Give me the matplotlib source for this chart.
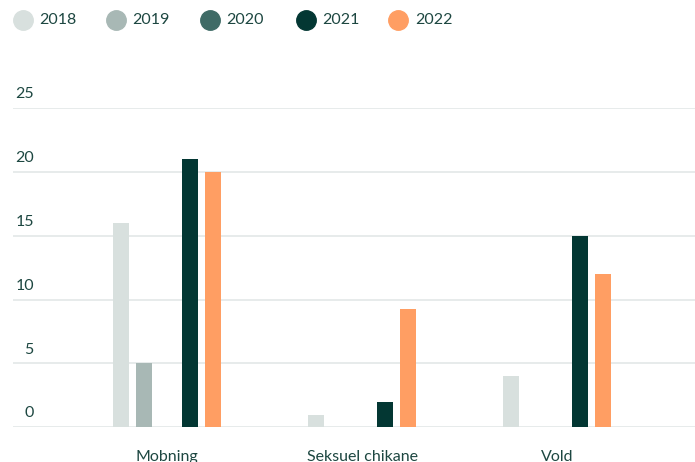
import matplotlib
matplotlib.use("Agg")
import numpy as np
import matplotlib.pyplot as plt
from matplotlib.lines import Line2D

# data
categories = ["Mobning", "Seksuel chikane", "Vold"]
years = ["2018", "2019", "2020", "2021", "2022"]
v2018 = [16, 1, 4]
v2019 = [5, 0, 0]
v2020 = [0, 0, 0]
v2021 = [21, 2, 15]
v2022 = [20, 9.3, 12]
series = [v2018, v2019, v2020, v2021, v2022]
colors = ["#d8e0de", "#a8b8b5", "#3f6b66", "#033733", "#ff9e63"]
yticks = [0, 5, 10, 15, 20, 25]

txt_col = "#1d4741"
plt.rcParams["font.family"] = ["Lato", "DejaVu Sans"]

W, H = 695, 462
fig = plt.figure(figsize=(W / 100, H / 100), dpi=100)
ax_left, ax_right = 13, 695
ax_top, ax_bot = 108, 427.3
ax = fig.add_axes([ax_left / W, 1 - ax_bot / H, (ax_right - ax_left) / W, (ax_bot - ax_top) / H])

unit = 195.0  # px per category
x = np.arange(len(categories))
off = 23 / unit
bw = 16 / unit
for i, (vals, c) in enumerate(zip(series, colors)):
    ax.bar(x + (i - 2) * off, vals, width=bw, color=c, zorder=3, linewidth=0)

a = -(167 - ax_left) / unit
ax.set_xlim(a, a + (ax_right - ax_left) / unit)
ax.set_ylim(0, 25)

for t in yticks:
    ax.axhline(t, color="#e3e8e7", lw=1.2, zorder=1)
    ax.annotate(str(t), xy=(0, t), xycoords=("axes fraction", "data"),
                xytext=(15, 10), textcoords="offset points",
                ha="right", va="center", fontsize=11.5, color=txt_col)

ax.set_yticks([])
ax.set_xticks(x)
ax.set_xticklabels(categories, fontsize=11.5, color=txt_col)
ax.tick_params(axis="x", length=0, pad=16.5)
for s in ax.spines.values():
    s.set_visible(False)

# legend
leg_x = [22.5, 115.5, 209.5, 305.5, 398]
for lx, yr, c in zip(leg_x, years, colors):
    fig.add_artist(Line2D([lx / W], [1 - 20 / H], marker="o", markersize=14,
                          color=c, linestyle="none", transform=fig.transFigure))
    fig.text((lx + 17) / W, 1 - 20 / H, yr, fontsize=11.5, color=txt_col,
             ha="left", va="center")

fig.savefig("out.png", dpi=100)
